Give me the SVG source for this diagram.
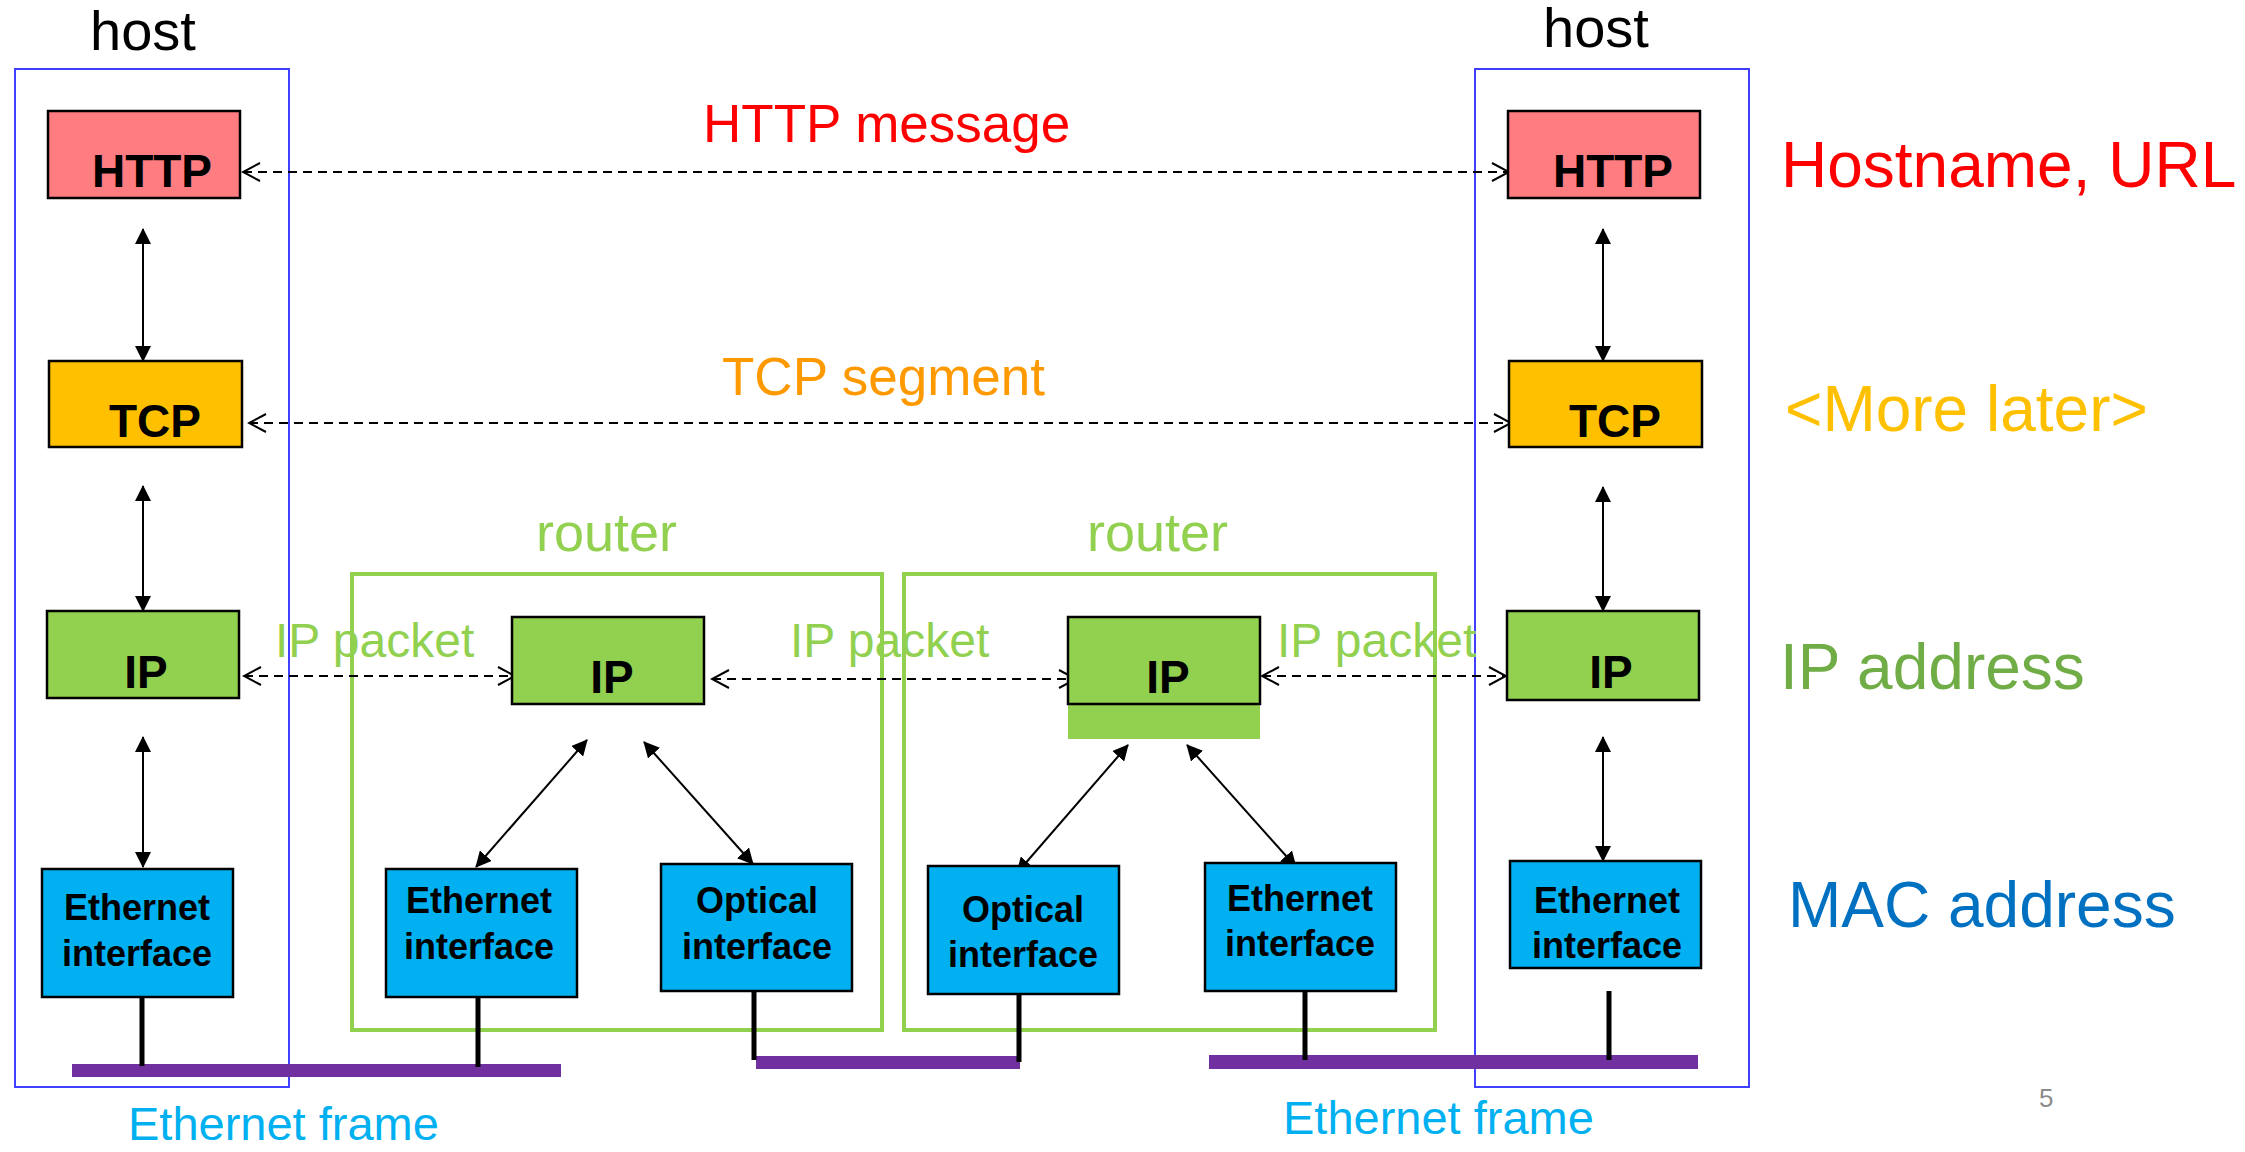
<svg xmlns="http://www.w3.org/2000/svg" width="2245" height="1152" viewBox="0 0 2245 1152">
<style>
text{font-family:"Liberation Sans",Arial,Helvetica,sans-serif}
.host{fill:none;stroke:#4040ff;stroke-width:2}
.router{fill:none;stroke:#92d050;stroke-width:4}
.box{stroke:#000;stroke-width:2.5}
.http{fill:#ff7c80}.tcp{fill:#ffc000}.ip{fill:#92d050}.eth{fill:#00b0f0}
.lbl{font-size:46px;font-weight:bold;fill:#000;text-anchor:middle}
.if{font-size:36px;font-weight:bold;fill:#000;text-anchor:middle}
.solid{stroke:#000;stroke-width:2;fill:none;marker-start:url(#tri);marker-end:url(#tri)}
.dash{stroke:#000;stroke-width:2;fill:none;stroke-dasharray:9 6;marker-start:url(#chev);marker-end:url(#chev)}
.wire{stroke:#000;stroke-width:5}
.bus{fill:#7030a0}
.pkt{font-size:48px;fill:#92d050}
.big{font-size:64px}
</style>
<defs>
<marker id="tri" viewBox="0 0 16 16" refX="15" refY="8" markerWidth="16" markerHeight="16" markerUnits="userSpaceOnUse" orient="auto-start-reverse">
<path d="M0,0 L16,8 L0,16 z" fill="#000"/>
</marker>
<marker id="chev" viewBox="0 0 20 20" refX="18" refY="10" markerWidth="20" markerHeight="20" markerUnits="userSpaceOnUse" orient="auto-start-reverse">
<path d="M1,1 L18,10 L1,19" fill="none" stroke="#000" stroke-width="2" stroke-dasharray="none"/>
</marker>
</defs>
<rect width="2245" height="1152" fill="#fff"/>

<g id="host-left">
<rect class="host" x="15" y="69" width="274" height="1018"/>
<text x="143" y="50" font-size="56" text-anchor="middle">host</text>
</g>
<g id="host-right">
<rect class="host" x="1475" y="69" width="274" height="1018"/>
<text x="1596" y="47" font-size="56" text-anchor="middle">host</text>
</g>
<g id="router-1">
<rect class="router" x="352" y="574" width="530" height="456"/>
<text x="536" y="551" font-size="54" fill="#92d050">router</text>
</g>
<g id="router-2">
<rect class="router" x="904" y="574" width="531" height="456"/>
<text x="1087" y="551" font-size="54" fill="#92d050">router</text>
</g>

<g id="buses">
<rect class="bus" x="72" y="1064" width="489" height="13"/>
<rect class="bus" x="756" y="1056" width="264" height="13"/>
<rect class="bus" x="1209" y="1055" width="489" height="14"/>
</g>

<g id="connectors">
<line class="solid" x1="143" y1="229" x2="143" y2="361"/>
<line class="solid" x1="143" y1="486" x2="143" y2="611"/>
<line class="solid" x1="143" y1="737" x2="143" y2="867"/>
<line class="solid" x1="1603" y1="229" x2="1603" y2="361"/>
<line class="solid" x1="1603" y1="487" x2="1603" y2="611"/>
<line class="solid" x1="1603" y1="737" x2="1603" y2="861"/>
<line class="solid" x1="587" y1="740" x2="476" y2="867"/>
<line class="solid" x1="644" y1="742" x2="753" y2="864"/>
<line class="solid" x1="1128" y1="745" x2="1017" y2="873"/>
<line class="solid" x1="1187" y1="745" x2="1296" y2="867"/>
<line class="dash" x1="243" y1="172" x2="1509" y2="172"/>
<line class="dash" x1="249" y1="423" x2="1511" y2="423"/>
<line class="dash" x1="244" y1="676" x2="515" y2="676"/>
<line class="dash" x1="712" y1="679" x2="1076" y2="679"/>
<line class="dash" x1="1262" y1="676" x2="1506" y2="676"/>
<line class="wire" x1="142" y1="993" x2="142" y2="1066"/>
<line class="wire" x1="478" y1="997" x2="478" y2="1067"/>
<line class="wire" x1="754" y1="991" x2="754" y2="1060"/>
<line class="wire" x1="1019" y1="994" x2="1019" y2="1062"/>
<line class="wire" x1="1305" y1="991" x2="1305" y2="1060"/>
<line class="wire" x1="1609" y1="991" x2="1609" y2="1060"/>
</g>

<g id="left-http"><rect class="box http" x="48" y="111" width="192" height="87"/><text class="lbl" x="152" y="187">HTTP</text></g>
<g id="left-tcp"><rect class="box tcp" x="49" y="361" width="193" height="86"/><text class="lbl" x="155" y="437">TCP</text></g>
<g id="left-ip"><rect class="box ip" x="47" y="611" width="192" height="87"/><text class="lbl" x="146" y="688">IP</text></g>
<g id="left-eth"><rect class="box eth" x="42" y="869" width="191" height="128"/><text class="if" x="137" y="920">Ethernet</text><text class="if" x="137" y="966">interface</text></g>

<g id="r1-ip"><rect class="box ip" x="512" y="617" width="192" height="87"/><text class="lbl" x="612" y="693">IP</text></g>
<g id="r1-eth"><rect class="box eth" x="386" y="869" width="191" height="128"/><text class="if" x="479" y="913">Ethernet</text><text class="if" x="479" y="959">interface</text></g>
<g id="r1-opt"><rect class="box eth" x="661" y="864" width="191" height="127"/><text class="if" x="757" y="913">Optical</text><text class="if" x="757" y="959">interface</text></g>

<g id="r2-ip"><rect x="1068" y="700" width="192" height="39" fill="#92d050"/><rect class="box ip" x="1068" y="617" width="192" height="87"/><text class="lbl" x="1168" y="693">IP</text></g>
<g id="r2-opt"><rect class="box eth" x="928" y="866" width="191" height="128"/><text class="if" x="1023" y="922">Optical</text><text class="if" x="1023" y="967">interface</text></g>
<g id="r2-eth"><rect class="box eth" x="1205" y="863" width="191" height="128"/><text class="if" x="1300" y="911">Ethernet</text><text class="if" x="1300" y="956">interface</text></g>

<g id="right-http"><rect class="box http" x="1508" y="111" width="192" height="87"/><text class="lbl" x="1613" y="187">HTTP</text></g>
<g id="right-tcp"><rect class="box tcp" x="1509" y="361" width="193" height="86"/><text class="lbl" x="1615" y="437">TCP</text></g>
<g id="right-ip"><rect class="box ip" x="1507" y="611" width="192" height="89"/><text class="lbl" x="1611" y="688">IP</text></g>
<g id="right-eth"><rect class="box eth" x="1510" y="861" width="191" height="107"/><text class="if" x="1607" y="913">Ethernet</text><text class="if" x="1607" y="958">interface</text></g>

<g id="labels">
<text x="703" y="142" font-size="53" fill="#ff0000">HTTP message</text>
<text x="722" y="395" font-size="53" fill="#ff9900">TCP segment</text>
<text class="pkt" x="275" y="657">IP packet</text>
<text class="pkt" x="790" y="657">IP packet</text>
<text class="pkt" x="1277" y="657">IP packet</text>
<text x="128" y="1140" font-size="47" fill="#00b0f0">Ethernet frame</text>
<text x="1283" y="1134" font-size="47" fill="#00b0f0">Ethernet frame</text>
<text class="big" x="1781" y="187" fill="#ff0000">Hostname, URL</text>
<text class="big" x="1785" y="431" fill="#ffc000">&lt;More later&gt;</text>
<text class="big" x="1780" y="689" fill="#70ad47">IP address</text>
<text class="big" x="1788" y="927" fill="#0070c0">MAC address</text>
<text x="2039" y="1107" font-size="26" fill="#8c8c8c">5</text>
</g>
</svg>
